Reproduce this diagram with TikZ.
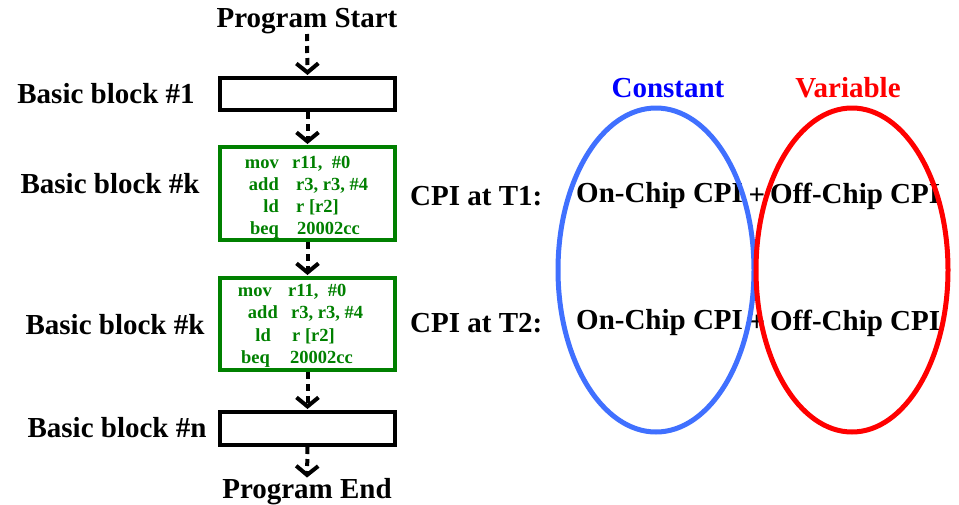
\documentclass[tikz,border=0pt]{standalone}
\usepackage{fontspec}
\setmainfont{Liberation Serif}
\usetikzlibrary{arrows.meta,shapes.geometric}
\definecolor{codegreen}{RGB}{0,128,0}
\definecolor{cblue}{RGB}{64,112,255}
\definecolor{cred}{RGB}{255,0,0}
\definecolor{tblue}{RGB}{0,0,255}
\tikzset{
  big/.style={font=\fontsize{29}{31}\selectfont\bfseries, inner sep=0pt},
  code/.style={font=\fontsize{18.5}{20}\selectfont\bfseries, text=codegreen, inner sep=0pt},
  plainbox/.style={draw=black, line width=4pt, minimum width=175pt, inner sep=0pt},
  greenbox/.style={draw=codegreen, line width=4pt, minimum width=175pt, inner sep=0pt},
  flow/.style={line width=4pt, dash pattern=on 7pt off 5pt, -{Straight Barb[length=9pt,width=22pt,line width=4pt]}, shorten >=1pt},
  oval/.style={ellipse, line width=5pt, inner sep=0pt, minimum width=196pt, minimum height=324pt}
}
\begin{document}
\begin{tikzpicture}[x=1pt,y=-1pt]
\useasboundingbox (0,0) rectangle (959,504);
% flow chart
\node[big] (start) at (307,21) {Program Start};
\node[plainbox, minimum height=32pt] (b1) at (307.5,94) {};
\node[greenbox, minimum height=93pt] (bk1) at (307.5,193.5) {};
\node[greenbox, minimum height=92pt] (bk2) at (307.5,324) {};
\node[plainbox, minimum height=33pt] (bn) at (307.5,428.5) {};
\node[big] (end) at (307,492) {Program End};
\draw[flow] (start.south) -- (b1.north);
\draw[flow] (b1.south) -- (bk1.north);
\draw[flow] (bk1.south) -- (bk2.north);
\draw[flow] (bk2.south) -- (bn.north);
\draw[flow] (bn.south) -- (end.north);
% labels
\node[big] (l1) at (106,94) {Basic block \#1};
\node[big] (lk1) at (110,184) {Basic block \#k};
\node[big] (lk2) at (115,325) {Basic block \#k};
\node[big] (ln) at (117,428) {Basic block \#n};
% code in first green box
\node[code, anchor=base east] (m1a) at (279,168) {mov};
\node[code, anchor=base west] (o1a) at (292,168) {r11,\ \ \#0};
\node[code, anchor=base east] (m1b) at (279,190) {add};
\node[code, anchor=base west] (o1b) at (296,190) {r3, r3, \#4};
\node[code, anchor=base east] (m1c) at (279,212) {ld};
\node[code, anchor=base west] (o1c) at (296,212) {r [r2]};
\node[code, anchor=base east] (m1d) at (279,234) {beq};
\node[code, anchor=base west] (o1d) at (297,234) {20002cc};
% code in second green box
\node[code, anchor=base east] (m2a) at (272,296) {mov};
\node[code, anchor=base west] (o2a) at (288,296) {r11,\ \ \#0};
\node[code, anchor=base east] (m2b) at (278,318) {add};
\node[code, anchor=base west] (o2b) at (291,318) {r3, r3, \#4};
\node[code, anchor=base east] (m2c) at (271,341) {ld};
\node[code, anchor=base west] (o2c) at (292,341) {r [r2]};
\node[code, anchor=base east] (m2d) at (270,363) {beq};
\node[code, anchor=base west] (o2d) at (290,363) {20002cc};
% right part
\node[big, text=tblue] (cst) at (668,88) {Constant};
\node[big, text=cred] (var) at (848,88) {Variable};
\node[big, anchor=west] (t1) at (410,196) {CPI at T1:};
\node[big, anchor=west] (on1) at (576,196) {On-Chip CPI};
\node[big] (p1) at (757,196) {+};
\node[big, anchor=west] (off1) at (770,196) {Off-Chip CPI};
\node[big, anchor=west] (t2) at (410,323) {CPI at T2:};
\node[big, anchor=west] (on2) at (576,323) {On-Chip CPI};
\node[big] (p2) at (757,323) {+};
\node[big, anchor=west] (off2) at (770,323) {Off-Chip CPI};
\node[oval, draw=cblue] (econst) at (656,270) {};
\node[oval, draw=cred, minimum width=192pt] (evar) at (852,270) {};
\end{tikzpicture}
\end{document}
